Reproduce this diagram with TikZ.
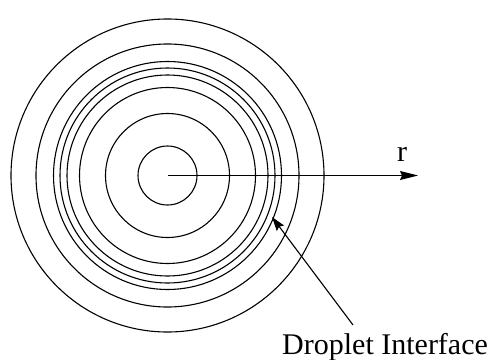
\documentclass[tikz,border=0pt]{standalone}
\usepackage{fontspec}
\setmainfont{Liberation Serif}
\usetikzlibrary{arrows.meta}
\begin{document}
\begin{tikzpicture}[x=1pt,y=-1pt,
  ring/.style={line width=1.1pt},
  axisline/.style={line width=1.1pt,-{Stealth[length=18pt,width=9pt,inset=2pt]}},
  pointer/.style={line width=1.1pt,-{Stealth[length=14pt,width=9pt,inset=2pt]}},
  lbl/.style={font=\fontsize{30}{35}\selectfont,inner sep=0pt}]
\useasboundingbox (0,0) rectangle (500,359);
\coordinate (c) at (167.5,175.5);
\foreach \r in {29.5,62,88,100.5,107.5,114,131.5,156.5}
  \draw[ring] (c) circle (\r);
\coordinate (rtip) at (418,175.5);
\draw[axisline] (c) -- (rtip);
\node[lbl,anchor=base] (rl) at (402,161) {r};
\node[lbl,anchor=base west] (dl) at (282,354) {Droplet Interface};
\coordinate (ptail) at (353,325);
\coordinate (phead) at (272,217);
\draw[pointer] (ptail) -- (phead);
\end{tikzpicture}
\end{document}
